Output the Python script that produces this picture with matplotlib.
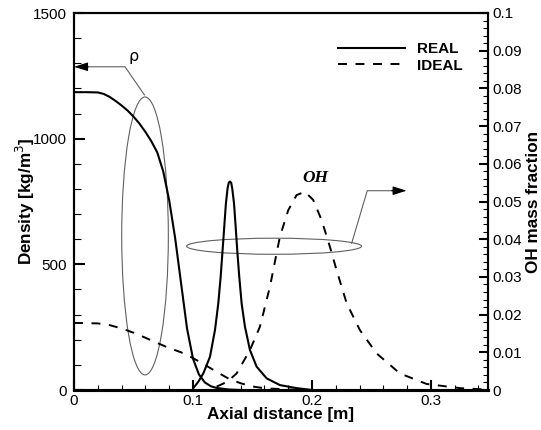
import matplotlib
matplotlib.use("Agg")
import matplotlib.pyplot as plt
from matplotlib.patches import Ellipse
from matplotlib.lines import Line2D
from matplotlib.ticker import MultipleLocator, FixedLocator

plt.rcParams['font.family'] = ['Liberation Sans', 'DejaVu Sans']

# ---- data ----
x_rho_real = [0.0, 0.01, 0.02, 0.025, 0.03, 0.035, 0.04, 0.045, 0.05, 0.055, 0.06, 0.065,
              0.07, 0.075, 0.08, 0.085, 0.09, 0.095, 0.10, 0.105, 0.11, 0.115, 0.12, 0.13, 0.14]
rho_real = [1185, 1185, 1184, 1178, 1166, 1150, 1132, 1112, 1088, 1060, 1027, 990,
            945, 870, 755, 605, 425, 245, 125, 62, 30, 15, 8, 2, 0]

x_rho_ideal = [0.0, 0.02, 0.03, 0.04, 0.05, 0.06, 0.07, 0.08, 0.09, 0.10, 0.11,
               0.12, 0.13, 0.14, 0.15, 0.16, 0.18, 0.20]
rho_ideal = [267, 265, 258, 245, 228, 208, 187, 167, 150, 127, 100,
             72, 45, 27, 14, 7, 2, 0]

x_oh_real = [0.1003, 0.1045, 0.1087, 0.1143, 0.1185, 0.1213, 0.1233, 0.1249, 0.1263,
             0.1277, 0.1291, 0.1301, 0.1311, 0.1321, 0.1330, 0.1345, 0.1359, 0.1372,
             0.1389, 0.1409, 0.1437, 0.1479, 0.1535, 0.1619, 0.1731, 0.1871, 0.200]
oh_real = [0.0005, 0.0022, 0.0044, 0.0088, 0.0159, 0.0230, 0.0301, 0.0371, 0.0433,
           0.0495, 0.0535, 0.0550, 0.0553, 0.0550, 0.0535, 0.0495, 0.0433, 0.0371,
           0.0301, 0.0230, 0.0168, 0.0106, 0.0062, 0.0031, 0.0013, 0.0005, 0.0]

x_oh_ideal = [0.1199, 0.1290, 0.1367, 0.1479, 0.1563, 0.1647, 0.1731, 0.1801, 0.1871,
              0.1941, 0.2011, 0.2081, 0.2151, 0.2207, 0.2292, 0.2403, 0.2544, 0.2739,
              0.2964, 0.3244, 0.348]
oh_ideal = [0.0009, 0.0022, 0.0044, 0.0106, 0.0168, 0.0274, 0.0407, 0.0477, 0.0517,
            0.0526, 0.0504, 0.0451, 0.0380, 0.0318, 0.0230, 0.0159, 0.0097, 0.0044,
            0.0016, 0.0005, 0.0001]

left_ticks = [0, 500, 1000, 1500]
right_ticks = [0, 0.01, 0.02, 0.03, 0.04, 0.05, 0.06, 0.07, 0.08, 0.09, 0.1]
right_labels = ['0', '0.01', '0.02', '0.03', '0.04', '0.05', '0.06', '0.07', '0.08', '0.09', '0.1']
x_ticks = [0, 0.1, 0.2, 0.3]
x_labels = ['0', '0.1', '0.2', '0.3']
series_names = ['REAL', 'IDEAL']

# ---- figure ----
fig = plt.figure(figsize=(5.41, 4.30), dpi=100)
ax = fig.add_axes([74/541, 40/430, 414/541, 377/430])
ax2 = ax.twinx()

dash = (0, (4.6, 4.4))
ax.plot(x_rho_real, rho_real, color='black', lw=1.5)
ax.plot(x_rho_ideal, rho_ideal, color='black', lw=1.4, linestyle=dash)
ax2.plot(x_oh_real, oh_real, color='black', lw=1.5)
ax2.plot(x_oh_ideal, oh_ideal, color='black', lw=1.4, linestyle=dash)

ax.set_xlim(0, 0.348)
ax.set_ylim(0, 1500)
ax2.set_ylim(0, 0.1)

# annotations
gray = '#606060'
ax.add_patch(Ellipse((0.0597, 613), 0.0392, 1106, facecolor='none', edgecolor=gray, lw=0.8))
ax.add_patch(Ellipse((0.1682, 572), 0.147, 64, facecolor='none', edgecolor=gray, lw=0.8))
ax.plot([0.0592, 0.0429, 0.008], [1174, 1286, 1286], color=gray, lw=0.8)
ax.annotate('', xy=(0.0, 1286), xytext=(0.012, 1286),
            arrowprops=dict(arrowstyle='-|>,head_length=0.7,head_width=0.22',
                            color='black', lw=0.8, mutation_scale=12, shrinkA=0, shrinkB=0))
ax.plot([0.2334, 0.2465, 0.270], [584, 793, 793], color=gray, lw=0.8)
ax.annotate('', xy=(0.2796, 793), xytext=(0.267, 793),
            arrowprops=dict(arrowstyle='-|>,head_length=0.7,head_width=0.22',
                            color='black', lw=0.8, mutation_scale=12, shrinkA=0, shrinkB=0))
ax.text(0.0497, 1325, 'ρ', fontsize=11.5, ha='center', va='center', family=['DejaVu Sans'])
ax.text(0.2025, 842, 'OH', fontsize=12.5, ha='center', va='center',
        family=['Liberation Serif', 'DejaVu Serif'], fontweight='bold', fontstyle='italic')

# legend
handles = [Line2D([], [], color='black', lw=1.5),
           Line2D([], [], color='black', lw=1.4, linestyle=dash)]
ax.legend(handles, series_names, loc='upper left', bbox_to_anchor=(0.638, 0.922),
          frameon=False, borderaxespad=0, borderpad=0, handlelength=4.4,
          handletextpad=0.78, labelspacing=0.15, prop={'weight': 'bold', 'size': 11})

# ticks
ax.xaxis.set_major_locator(FixedLocator(x_ticks))
ax.set_xticklabels(x_labels)
ax.xaxis.set_minor_locator(MultipleLocator(0.02))
ax.yaxis.set_major_locator(FixedLocator(left_ticks))
ax.set_yticklabels([str(t) for t in left_ticks])
ax.yaxis.set_minor_locator(MultipleLocator(100))
ax2.yaxis.set_major_locator(FixedLocator(right_ticks))
ax2.set_yticklabels(right_labels)
ax2.yaxis.set_minor_locator(MultipleLocator(0.002))

ax.tick_params(axis='x', which='major', direction='in', length=7, width=1.5, labelsize=11, pad=3)
ax.tick_params(axis='x', which='minor', direction='in', length=3.5, width=0.8)
ax.tick_params(axis='y', which='major', direction='in', length=8, width=1.5, labelsize=11, pad=5)
ax.tick_params(axis='y', which='minor', direction='in', length=5, width=0.8)
ax2.tick_params(axis='y', which='major', direction='in', length=6.5, width=1.5, labelsize=11, pad=3)
ax2.tick_params(axis='y', which='minor', direction='in', length=3.5, width=0.8)

for a in (ax, ax2):
    for s in ['left', 'right', 'top']:
        a.spines[s].set_linewidth(1.5)
    a.spines['bottom'].set_linewidth(2.2)

ax.set_xlabel('Axial distance [m]', fontsize=12.3, fontweight='bold', labelpad=-1)
ax.set_ylabel('Density [kg/m$^3$]', fontsize=12.3, fontweight='bold')
ax2.set_ylabel('OH mass fraction', fontsize=12.3, fontweight='bold')
ax.yaxis.set_label_coords((37 - 74) / 414, 0.5)
ax2.yaxis.set_label_coords((526 - 74) / 414, 0.5)

fig.savefig('out.png', dpi=100)
